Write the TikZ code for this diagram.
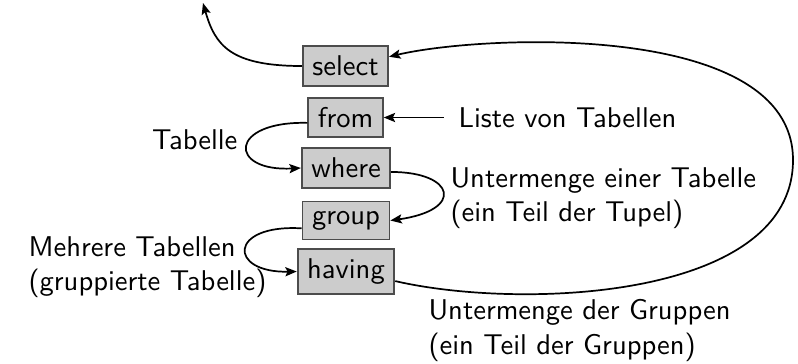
\documentclass[tikz,border=0pt]{standalone}
\usetikzlibrary{arrows.meta}
\begin{document}
\begin{tikzpicture}[x=0.35pt,y=-0.35pt,font=\sffamily,
  kw/.style={draw=black!70,fill=black!20,line width=0.65pt},
  conn/.style={line width=0.6pt,-{Stealth[length=4pt,width=3.2pt,inset=0.8pt]}},
  lbl/.style={align=left,inner sep=0pt}]
\useasboundingbox (0,0) rectangle (798,363);
\begin{scope}
\clip (0,0) rectangle (798,363);
\node[inner sep=0pt,anchor=base west] (top) at (57,-10) {(der Gruppen)};
\end{scope}
\node[kw] (select) at (345.5,66) {select};
\node[kw] (from) at (345.5,117.5) {from};
\node[kw] (where) at (346,168) {where};
\node[kw] (group) at (346,220.5) {group};
\node[kw] (having) at (346,271.5) {having};
\node[lbl,anchor=west] (liste) at (458,117.5) {Liste von Tabellen};
\node[lbl,anchor=east] (tab) at (238,140) {Tabelle};
\node[lbl,anchor=north west] (unt) at (450,167) {Untermenge einer Tabelle\\(ein Teil der Tupel)};
\node[lbl,anchor=north west] (untg) at (428,299) {Untermenge der Gruppen\\(ein Teil der Gruppen)};
\node[lbl,anchor=north west] (mehr) at (28,236) {Mehrere Tabellen\\(gruppierte Tabelle)};
\coordinate (res) at (203,3);
\draw[conn] (select.west) .. controls (230,66) and (215,45) .. (res);
\draw[conn] (having.-11) .. controls (520,310) and (793,300) .. (793,160)
  .. controls (793,20) and (480,35) .. (select.12);
\draw[conn] ([xshift=-5pt]liste.west) -- (from.east);
\draw[conn] (from.188) .. controls (228,121) and (228,172) .. (where.west);
\draw[conn] (where.-5) .. controls (455,172) and (465,210) .. (group.east);
\draw[conn] (group.-170) .. controls (228,224) and (228,273) .. (having.west);
\end{tikzpicture}
\end{document}
